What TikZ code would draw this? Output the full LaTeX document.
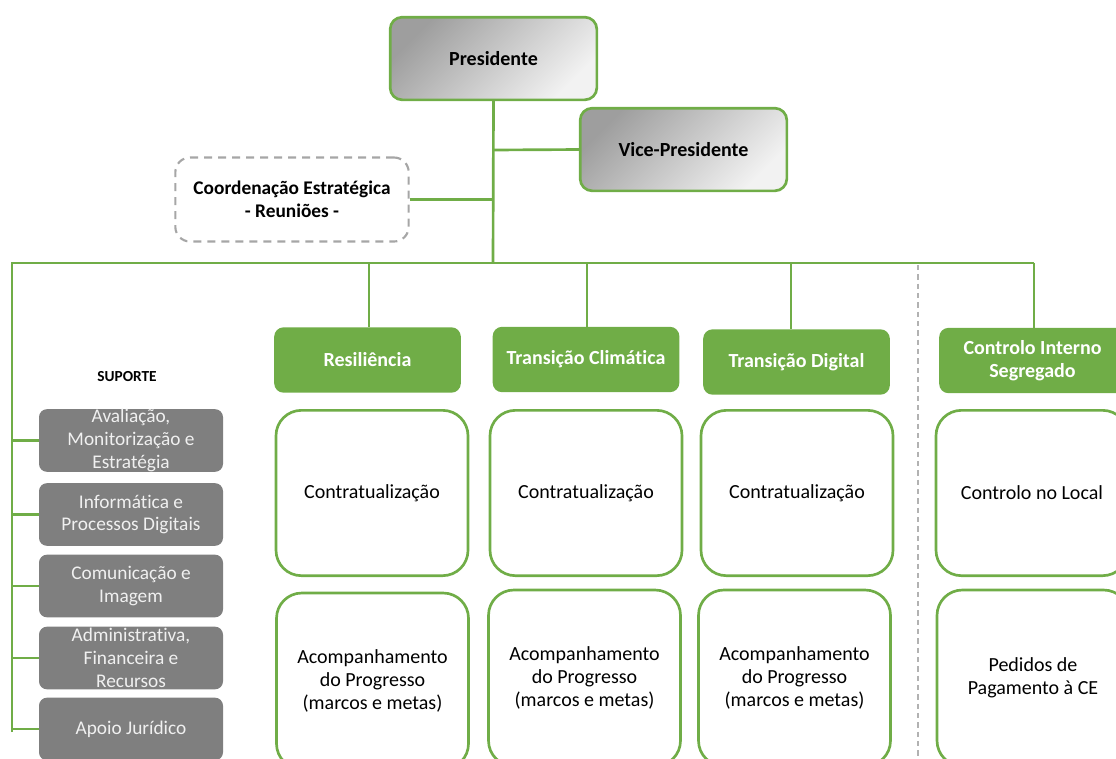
\documentclass[tikz,border=0pt]{standalone}
\usepackage{fontspec}
\setmainfont{Carlito}[Ligatures={NoCommon}]
\definecolor{ptgreen}{RGB}{112,173,71}
\definecolor{ptgray}{RGB}{127,127,127}
\begin{document}
\begin{tikzpicture}[x=0.75pt, y=-0.75pt,
      every node/.append style={font=\fontsize{15}{17}\selectfont, align=center, inner sep=0pt},
      pnode/.style={draw=ptgreen, line width=2pt, rounded corners=9pt, top color=black!38, bottom color=black!5, shading angle=45, minimum width=155pt, minimum height=62pt, font=\fontsize{15}{17}\selectfont\bfseries},
      dnode/.style={draw=black!35, line width=1.6pt, dash pattern=on 6pt off 4.5pt, rounded corners=11pt, minimum width=175pt, minimum height=63pt, font=\fontsize{14.5}{17}\selectfont\bfseries},
      hnode/.style={fill=ptgreen, rounded corners=7pt, minimum width=140pt, minimum height=49pt, text=white, font=\fontsize{15}{17}\selectfont\bfseries},
      cnode/.style={draw=ptgreen, line width=2pt, rounded corners=19pt, fill=white, minimum width=144pt},
      snode/.style={fill=ptgray, rounded corners=6pt, minimum width=138pt, minimum height=47pt, text=black!6, font=\fontsize{14.5}{17}\selectfont},
      link/.style={draw=ptgreen, line width=2pt}]
    \useasboundingbox (0,0) rectangle (1116,758);

    % ---------------- top: presidency ----------------
    \node[pnode] (pres) at (493.5,58.5)  {Presidente};
    \node[pnode] (vice) at (683.5,149.5) {Vice-Presidente};
    \node[dnode] (coord) at (292,199.5)  {Coordenação Estratégica\\- Reuniões -};

    \coordinate (t-vice)  at (493,150);
    \coordinate (t-coord) at (493,199.5);
    \coordinate (bus-l)   at (12,263);
    \coordinate (bus-m)   at (493,263);
    \coordinate (bus-r)   at (1034,263);
    \coordinate (sup-end) at (12,732);

    \draw[link] (pres.south) -- (bus-m);
    \draw[link] (t-vice) -- (vice.west);
    \draw[link] (coord.east) -- (t-coord);
    \draw[link, line join=miter] (sup-end) -- (bus-l) -- (bus-r);

    % separator before internal control
    \draw[black!30, line width=1pt, dash pattern=on 4pt off 3pt] (918,265) -- (918,758);

    % ---------------- columns: headers and tasks ----------------
    \node[hnode] (h1) at (367.5,360) {Resiliência};
    \node[hnode] (h2) at (586,359.5) {Transição Climática};
    \node[hnode] (h3) at (796.5,362) {Transição Digital};
    \node[hnode] (h4) at (1032.5,360.5) {Controlo Interno\\Segregado};

    \foreach \n/\x in {h1/369, h2/587, h3/791, h4/1034}
      \draw[link] (\x,263) -- (\x,0 |- \n.north);

    \node[cnode, minimum height=124pt] (c1) at (372,493)  {Contratualização};
    \node[cnode, minimum height=124pt] (c2) at (586,493)  {Contratualização};
    \node[cnode, minimum height=124pt] (c3) at (797,493)  {Contratualização};
    \node[cnode, minimum height=124pt] (c4) at (1032,493) {Controlo no Local};

    \node[cnode, minimum height=132pt] (a1) at (372.5,681) {Acompanhamento\\do Progresso\\(marcos e metas)};
    \node[cnode, minimum height=132pt] (a2) at (584.5,678) {Acompanhamento\\do Progresso\\(marcos e metas)};
    \node[cnode, minimum height=132pt] (a3) at (794.5,678) {Acompanhamento\\do Progresso\\(marcos e metas)};
    \node[cnode, minimum height=132pt] (a4) at (1033,678)  {Pedidos de\\Pagamento à CE};

    % ---------------- support units ----------------
    \node[font=\fontsize{11.5}{13}\selectfont\bfseries] (sup) at (127,377) {SUPORTE};
    \node[snode] (s1) at (131,440.5) {Avaliação,\\Monitorização e\\Estratégia};
    \node[snode] (s2) at (131,514.5) {Informática e\\Processos Digitais};
    \node[snode] (s3) at (131,586)   {Comunicação e\\Imagem};
    \node[snode] (s4) at (131,658)   {Administrativa,\\Financeira e\\Recursos};
    \node[snode] (s5) at (131,729)   {Apoio Jurídico};

    \foreach \s in {s1,s2,s3,s4,s5}
      \draw[link] (\s.west) -- (bus-l |- \s.west);
  \end{tikzpicture}
\end{document}
